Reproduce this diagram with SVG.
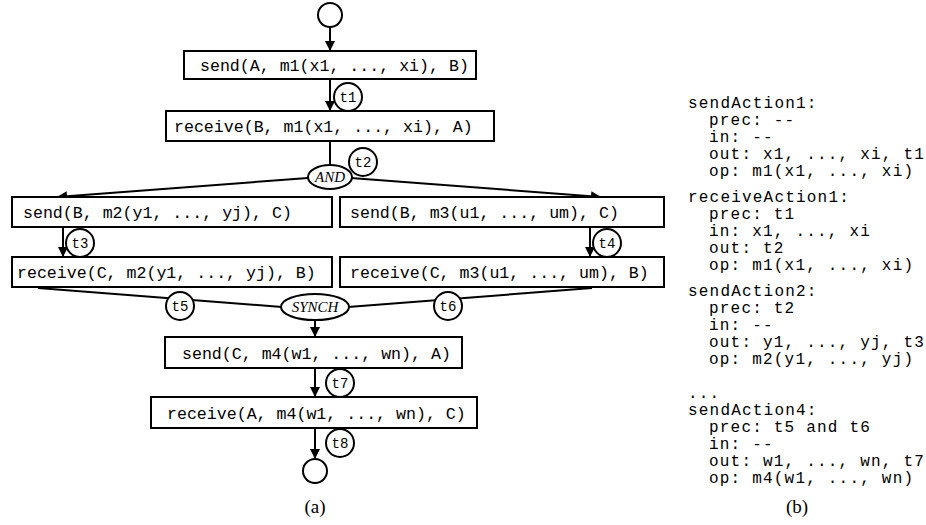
<svg xmlns="http://www.w3.org/2000/svg" width="926" height="525" viewBox="0 0 926 525">
<style>
.box{fill:#fff;stroke:#000;stroke-width:2}
.lbl{font-family:"Liberation Mono",monospace;font-size:16.6px;fill:#000}
.tc{fill:#fff;stroke:#000;stroke-width:2}
.tt{font-family:"Liberation Mono",monospace;font-size:14px;fill:#000;text-anchor:middle}
.gate{font-family:"Liberation Serif",serif;font-style:italic;font-size:15px;fill:#000;text-anchor:middle}
.ln{stroke:#000;stroke-width:2;fill:none}
.code{font-family:"Liberation Mono",monospace;font-size:16px;letter-spacing:1.2px;fill:#000}
.cap{font-family:"Liberation Serif",serif;font-size:19px;fill:#000;text-anchor:middle}
</style>
<defs>
<marker id="ah" viewBox="0 0 10 10" refX="10" refY="5" markerWidth="5.5" markerHeight="5" orient="auto" markerUnits="strokeWidth">
<path d="M0,0 L10,5 L0,10 z" fill="#000"/>
</marker>
</defs>
<rect width="926" height="525" fill="#fff"/>
<g id="connectors">
<line class="ln" x1="330" y1="27" x2="330" y2="51" marker-end="url(#ah)"/>
<line class="ln" x1="330" y1="79" x2="330" y2="111" marker-end="url(#ah)"/>
<line class="ln" x1="330" y1="141" x2="330" y2="165"/>
<line class="ln" x1="308" y1="178" x2="57" y2="197" marker-end="url(#ah)"/>
<line class="ln" x1="351" y1="178" x2="601" y2="197" marker-end="url(#ah)"/>
<line class="ln" x1="63" y1="227" x2="63" y2="257" marker-end="url(#ah)"/>
<line class="ln" x1="590" y1="227" x2="590" y2="257" marker-end="url(#ah)"/>
<line class="ln" x1="38" y1="288" x2="282" y2="307"/>
<line class="ln" x1="592" y1="288" x2="348" y2="307"/>
<line class="ln" x1="315" y1="320" x2="315" y2="337" marker-end="url(#ah)"/>
<line class="ln" x1="315" y1="368" x2="315" y2="397" marker-end="url(#ah)"/>
<line class="ln" x1="315" y1="428" x2="315" y2="459" marker-end="url(#ah)"/>
</g>
<g id="start"><circle cx="330" cy="15" r="12" fill="#fff" stroke="#000" stroke-width="2"/></g>
<g id="n1"><rect class="box" x="184" y="51" width="292" height="28"/><text class="lbl" x="200" y="71">send(A, m1(x1, ..., xi), B)</text></g>
<g id="n2"><rect class="box" x="166" y="111" width="328" height="30"/><text class="lbl" x="174" y="132">receive(B, m1(x1, ..., xi), A)</text></g>
<g id="and"><ellipse cx="330" cy="177" rx="22" ry="12" fill="#fff" stroke="#000" stroke-width="2"/><text class="gate" x="330" y="182">AND</text></g>
<g id="n3"><rect class="box" x="12" y="197" width="320" height="30"/><text class="lbl" x="23" y="218">send(B, m2(y1, ..., yj), C)</text></g>
<g id="n4"><rect class="box" x="340" y="197" width="324" height="30"/><text class="lbl" x="350" y="218">send(B, m3(u1, ..., um), C)</text></g>
<g id="n5"><rect class="box" x="12" y="257" width="320" height="30"/><text class="lbl" x="17" y="278">receive(C, m2(y1, ..., yj), B)</text></g>
<g id="n6"><rect class="box" x="340" y="257" width="324" height="30"/><text class="lbl" x="350" y="278">receive(C, m3(u1, ..., um), B)</text></g>
<g id="synch"><ellipse cx="315" cy="307" rx="34" ry="13" fill="#fff" stroke="#000" stroke-width="2"/><text class="gate" x="315" y="312">SYNCH</text></g>
<g id="n7"><rect class="box" x="165" y="337" width="297" height="31"/><text class="lbl" x="182" y="359">send(C, m4(w1, ..., wn), A)</text></g>
<g id="n8"><rect class="box" x="151" y="397" width="326" height="31"/><text class="lbl" x="167" y="419">receive(A, m4(w1, ..., wn), C)</text></g>
<g id="end"><circle cx="315" cy="471" r="12" fill="#fff" stroke="#000" stroke-width="2"/></g>
<g id="t1"><circle class="tc" cx="348" cy="97" r="14"/><text class="tt" x="348" y="102">t1</text></g>
<g id="t2"><circle class="tc" cx="363" cy="162" r="14"/><text class="tt" x="363" y="167">t2</text></g>
<g id="t3"><circle class="tc" cx="80" cy="243" r="14"/><text class="tt" x="80" y="248">t3</text></g>
<g id="t4"><circle class="tc" cx="607" cy="243" r="14"/><text class="tt" x="607" y="248">t4</text></g>
<g id="t5"><circle class="tc" cx="180" cy="306" r="14"/><text class="tt" x="180" y="311">t5</text></g>
<g id="t6"><circle class="tc" cx="448" cy="306" r="14"/><text class="tt" x="448" y="311">t6</text></g>
<g id="t7"><circle class="tc" cx="340" cy="383" r="14"/><text class="tt" x="340" y="388">t7</text></g>
<g id="t8"><circle class="tc" cx="340" cy="443" r="14"/><text class="tt" x="340" y="448">t8</text></g>
<text class="cap" x="315" y="513">(a)</text>
<g id="code">
<text class="code" x="688" y="108">sendAction1:</text>
<text class="code" x="709" y="125">prec: --</text>
<text class="code" x="709" y="142">in: --</text>
<text class="code" x="709" y="159">out: x1, ..., xi, t1</text>
<text class="code" x="709" y="176">op: m1(x1, ..., xi)</text>
<text class="code" x="688" y="202">receiveAction1:</text>
<text class="code" x="709" y="219">prec: t1</text>
<text class="code" x="709" y="236">in: x1, ..., xi</text>
<text class="code" x="709" y="253">out: t2</text>
<text class="code" x="709" y="270">op: m1(x1, ..., xi)</text>
<text class="code" x="688" y="296">sendAction2:</text>
<text class="code" x="709" y="313">prec: t2</text>
<text class="code" x="709" y="330">in: --</text>
<text class="code" x="709" y="347">out: y1, ..., yj, t3</text>
<text class="code" x="709" y="364">op: m2(y1, ..., yj)</text>
<text class="code" x="688" y="398">...</text>
<text class="code" x="688" y="415">sendAction4:</text>
<text class="code" x="709" y="432">prec: t5 and t6</text>
<text class="code" x="709" y="449">in: --</text>
<text class="code" x="709" y="466">out: w1, ..., wn, t7</text>
<text class="code" x="709" y="483">op: m4(w1, ..., wn)</text>
</g>
<text class="cap" x="797" y="513">(b)</text>
</svg>
